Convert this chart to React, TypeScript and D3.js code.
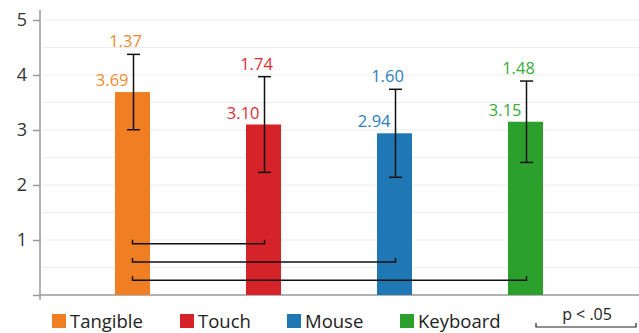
import React, { useEffect, useRef } from 'react';
import * as d3 from 'd3';

const categories = ['Tangible', 'Touch', 'Mouse', 'Keyboard'];
const means = [3.69, 3.10, 2.94, 3.15];
const sds = [1.37, 1.74, 1.60, 1.48];
const colors = ['#ef7f22', '#d62229', '#1f77b4', '#2ca02c'];
const textColors = ['#f08a30', '#de2c36', '#2a7fbd', '#3aaa3a'];
const yTicks = [1, 2, 3, 4, 5];
// significant pairs (from, to) with bracket height in data units
const sigPairs = [
  { from: 'Tangible', to: 'Touch', level: 0.93 },
  { from: 'Tangible', to: 'Mouse', level: 0.6 },
  { from: 'Tangible', to: 'Keyboard', level: 0.27 },
];

const W = 639;
const H = 333;

const BarChart = () => {
  const svgRef = useRef(null);

  useEffect(() => {
    if (!svgRef.current) return;
    const svg = d3.select(svgRef.current);
    svg.selectAll('*').remove();

    const font = '"Open Sans", "Noto Sans", sans-serif';
    const y = d3.scaleLinear().domain([0, 5]).range([295, 20]);
    const x = d3.scalePoint().domain(categories).range([67, 591]).padding(0.5);
    const barW = 35;

    // gridlines every half unit
    const grid = d3.range(0.5, 5.01, 0.5);
    svg.append('g')
      .selectAll('line')
      .data(grid)
      .join('line')
      .attr('x1', 43)
      .attr('x2', W)
      .attr('y1', d => y(d))
      .attr('y2', d => y(d))
      .attr('stroke', '#ececec')
      .attr('stroke-width', 1);

    // y axis
    const yAxis = svg.append('g').attr('transform', 'translate(40,0)')
      .call(d3.axisLeft(y).tickValues([0, ...yTicks]).tickSize(7).tickPadding(6)
        .tickFormat(d => (d === 0 ? '' : String(d))));
    yAxis.select('.domain').remove();
    yAxis.selectAll('line').attr('stroke', '#999').attr('stroke-width', 1.5);
    yAxis.selectAll('text')
      .style('font-family', font)
      .style('font-size', '18px')
      .attr('fill', '#333');
    svg.append('line')
      .attr('x1', 40).attr('x2', 40).attr('y1', 10).attr('y2', 300)
      .attr('stroke', '#999').attr('stroke-width', 1.5);
    svg.append('line')
      .attr('x1', 40).attr('x2', W).attr('y1', y(0)).attr('y2', y(0))
      .attr('stroke', '#999').attr('stroke-width', 1.5);

    // bars
    const g = svg.append('g');
    categories.forEach((c, i) => {
      const cx = x(c);
      g.append('rect')
        .attr('x', cx - barW / 2)
        .attr('y', y(means[i]))
        .attr('width', barW)
        .attr('height', y(0) - y(means[i]))
        .attr('fill', colors[i]);

      const top = y(means[i] + sds[i] / 2);
      const bot = y(means[i] - sds[i] / 2);
      const ex = cx + 1;
      g.append('line').attr('x1', ex).attr('x2', ex).attr('y1', top).attr('y2', bot)
        .attr('stroke', '#111').attr('stroke-width', 1.5);
      [top, bot].forEach(v => {
        g.append('line').attr('x1', ex - 6.5).attr('x2', ex + 6.5).attr('y1', v).attr('y2', v)
          .attr('stroke', '#111').attr('stroke-width', 1.5);
      });

      g.append('text')
        .attr('x', ex - 8)
        .attr('y', top - 7)
        .attr('text-anchor', 'middle')
        .style('font-family', font)
        .style('font-size', '16.5px')
        .attr('fill', textColors[i])
        .text(sds[i].toFixed(2));

      g.append('text')
        .attr('x', ex - 5)
        .attr('y', y(means[i]) - 6)
        .attr('text-anchor', 'end')
        .style('font-family', font)
        .style('font-size', '16.5px')
        .attr('fill', textColors[i])
        .text(means[i].toFixed(2));
    });

    // significance brackets
    sigPairs.forEach(p => {
      const x1 = x(p.from);
      const x2 = x(p.to) + 1;
      const yy = y(p.level);
      svg.append('path')
        .attr('d', `M${x1},${yy - 4}V${yy}H${x2}V${yy - 4}`)
        .attr('fill', 'none')
        .attr('stroke', '#111')
        .attr('stroke-width', 1.5);
    });

    // legend
    const legendX = [52, 180, 287, 400];
    categories.forEach((c, i) => {
      svg.append('rect')
        .attr('x', legendX[i]).attr('y', 314).attr('width', 14).attr('height', 14)
        .attr('fill', colors[i]);
      svg.append('text')
        .attr('x', legendX[i] + 18).attr('y', 328)
        .style('font-family', font)
        .style('font-size', '18.5px')
        .attr('fill', '#222')
        .text(c);
    });

    svg.append('text')
      .attr('x', 587).attr('y', 320)
      .attr('text-anchor', 'middle')
      .style('font-family', font)
      .style('font-size', '16px')
      .attr('fill', '#222')
      .text('p < .05');
    svg.append('path')
      .attr('d', 'M536,323V327H636V323')
      .attr('fill', 'none')
      .attr('stroke', '#222')
      .attr('stroke-width', 1.2);
  }, []);

  return (
    <svg
      ref={svgRef}
      width={W}
      height={H}
      style={{ position: 'absolute', left: 0, top: 0, background: '#fff' }}
    />
  );
};

export default function App() {
  return <BarChart />;
}
